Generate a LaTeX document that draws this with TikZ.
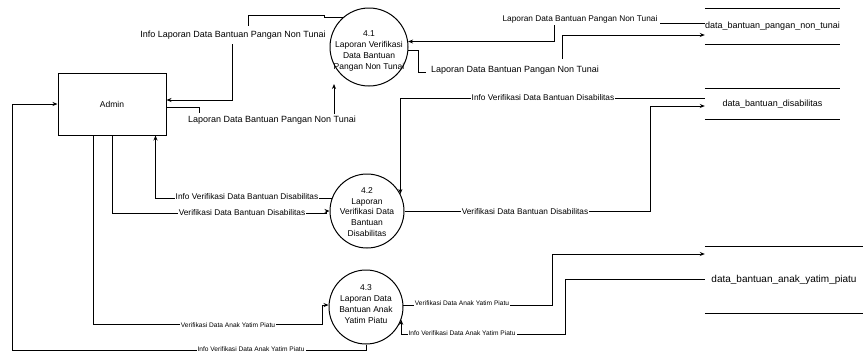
\documentclass[tikz,border=0pt]{standalone}
\usepackage{fontspec}
\setmainfont{Liberation Sans}
\usetikzlibrary{arrows.meta,calc}
\begin{document}
\begin{tikzpicture}[x=1pt,y=-1pt,
  conn/.style={draw=black, line width=1pt},
  arr/.style={conn, -{Stealth[length=5pt,width=4pt]}},
  proc/.style={draw, circle, line width=1pt, minimum size=78pt, inner sep=0pt},
  ptext/.style={align=center, font=\fontsize{8.5}{10.8}\selectfont, inner sep=0pt},
  entity/.style={draw, line width=1pt, minimum width=108pt, minimum height=62pt, inner sep=0pt, font=\fontsize{8.5}{10}\selectfont},
  store/.style={minimum width=135pt, minimum height=35pt, inner sep=0pt, font=\fontsize{9}{10}\selectfont},
  lblA/.style={font=\fontsize{9}{10}\selectfont, inner sep=1pt},
  lblB/.style={font=\fontsize{8.3}{10}\selectfont, inner sep=1pt, fill=white},
  lblC/.style={font=\fontsize{6.6}{8}\selectfont, inner sep=1pt, fill=white},
]
\useasboundingbox[fill=white] (0,0) rectangle (863,354);

% entities
\node[entity] (admin) at (112,104) {Admin};

% processes
\node[proc] (c1) at (369,47) {};
\node[ptext] (t1) at (369,51) {4.1\\Laporan Verifikasi\\Data Bantuan\\Pangan Non Tunai};
\node[proc, minimum size=74pt] (c2) at (367,211) {};
\node[ptext] (t2) at (367,212) {4.2\\Laporan\\Verifikasi Data\\Bantuan\\Disabilitas};
\node[proc, minimum size=74pt] (c3) at (366,307) {};
\node[ptext] (t3) at (366,304) {4.3\\Laporan Data\\Bantuan Anak\\Yatim Piatu};

% data stores
\node[store] (s1) at (772.5,26.5) {data\_bantuan\_pangan\_non\_tunai};
\draw[conn] (s1.north west) -- (s1.north east) (s1.south west) -- (s1.south east);
\node[store, minimum height=30pt] (s2) at (772.5,104) {data\_bantuan\_disabilitas};
\draw[conn] (s2.north west) -- (s2.north east) (s2.south west) -- (s2.south east);
\node[store, minimum width=158pt, minimum height=66pt, font=\fontsize{10}{11}\selectfont] (s3) at (784,280) {data\_bantuan\_anak\_yatim\_piatu};
\draw[conn] (s3.north west) -- (s3.north east) (s3.south west) -- (s3.south east);

% 1: 4.1 -> Admin
\draw[conn] (c1.131) -- ++(-19,0) |- (248,15) -- (248,26);
\node[lblA] (l1) at (233,35) {Info Laporan Data Bantuan Pangan Non Tunai};
\draw[arr] (232,44) |- ([yshift=4pt]admin.east);

% 2: Admin -> 4.1
\draw[conn] ([yshift=-3pt]admin.east) -| (199,113);
\node[lblA] (l2) at (272,120) {Laporan Data Bantuan Pangan Non Tunai};
\coordinate (e2) at (334,84);
\draw[arr] (334,114) -- (e2);

% 3: store1 -> 4.1
\draw[conn] ([yshift=3.5pt]s1.west) -- (660,23);
\node[lblB, fill=none] (l3) at (580,19) {Laporan Data Bantuan Pangan Non Tunai};
\draw[arr] (554,25) |- (c1.8);

% 4: 4.1 -> store1
\draw[conn] (c1.-5) -| (418,72) -- (426,72);
\node[lblA] (l4) at (515,70) {Laporan Data Bantuan Pangan Non Tunai};
\draw[arr] (562,59) |- ([yshift=-8.5pt]s1.west);

% 5: store2 -> 4.2
\draw[arr] ([yshift=6pt]s2.west) -| (c2.27);
\node[lblB] (l5) at (543,98) {Info Verifikasi Data Bantuan Disabilitas};

% 6: 4.2 -> store2
\draw[arr] (c2.east) -- (650,211) |- ([yshift=-2pt]s2.west);
\node[lblB] (l6) at (525,212) {Verifikasi Data Bantuan Disabilitas};

% 7: 4.2 -> Admin
\draw[arr] (c2.161) -| ([xshift=-11pt]admin.south east);
\node[lblB] (l7) at (247,197) {Info Verifikasi Data Bantuan Disabilitas};

% 8: Admin -> 4.2
\draw[arr] (admin.south) |- (326,213) |- (c2.west);
\node[lblB] (l8) at (242,213) {Verifikasi Data Bantuan Disabilitas};

% 9: Admin -> 4.3
\draw[arr] ([xshift=36pt]admin.south west) |- (322,324) |- (c3.177);
\node[lblC] (l9) at (228,325) {Verifikasi Data Anak Yatim Piatu};

% 10: 4.3 -> Admin
\draw[arr] (c3.south) |- (12,350) |- (admin.west);
\node[lblC] (l10) at (251,349) {Info Verifikasi Data Anak Yatim Piatu};

% 11: 4.3 -> store3
\draw[arr] (c3.3) -| (552,254) -- ([yshift=26pt]s3.west);
\node[lblC] (l11) at (462,303) {Verifikasi Data Anak Yatim Piatu};

% 12: store3 -> 4.3
\draw[arr] ([yshift=1pt]s3.west) -| (565,334) -| (c3.-20);
\node[lblC] (l12) at (462,333) {Info Verifikasi Data Anak Yatim Piatu};
\end{tikzpicture}
\end{document}
